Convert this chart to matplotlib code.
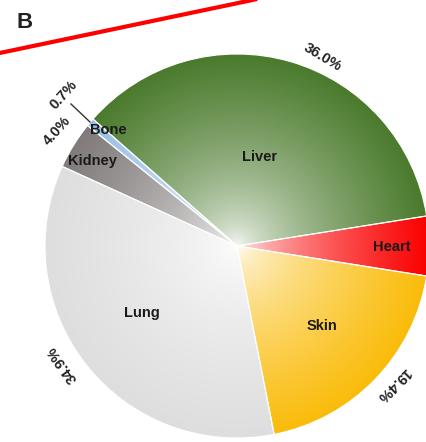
import numpy as np
import matplotlib.pyplot as plt
from matplotlib.colors import to_rgb

plt.rcParams['font.family'] = ['Liberation Sans', 'DejaVu Sans']

organs = ['Heart', 'Liver', 'Bone', 'Kidney', 'Lung', 'Skin']
shares = [5.0, 36.0, 0.7, 4.0, 34.9, 19.4]
rim_colors = ['#fa0000', '#4a7a2c', '#96bee6', '#807a7a', '#dedede', '#fabc0a']

W, H = 426, 442
fig = plt.figure(figsize=(W / 100, H / 100), dpi=100)
ax = fig.add_axes([0, 0, 1, 1])

# pixel coords (origin top-left) -> data coords
def px(x, y):
    return x, H - y

cx, cy = px(237, 246)
R = 192

wedges, _ = ax.pie(shares, startangle=-9, center=(cx, cy), radius=R,
                   counterclock=True,
                   wedgeprops=dict(edgecolor='white', linewidth=0.8))

# radial shading: white in the middle, full colour at the rim
yy, xx = np.mgrid[0:H, 0:W] + 0.5
dist = np.hypot(xx - cx, yy - cy) / R
t = np.clip(dist, 0, 1) ** 0.6
for w, c in zip(wedges, rim_colors):
    rgb = np.array(to_rgb(c))
    img = (1 - t[..., None]) * 1.0 + t[..., None] * rgb
    im = ax.imshow(img, extent=(0, W, 0, H), origin='lower',
                   interpolation='bilinear', zorder=1)
    im.set_clip_path(w)
    w.set_facecolor('none')
    w.set_zorder(2)

# organ names
name_pos = {'Heart': (392, 247), 'Liver': (260, 157), 'Bone': (108, 130),
            'Kidney': (92, 161), 'Lung': (142, 313), 'Skin': (322, 326)}
for name in organs:
    x, y = px(*name_pos[name])
    ax.text(x, y, name, fontsize=10.5, fontweight='bold', color='#1a1a1a',
            ha='center', va='center', zorder=3)

# percentages around the rim
pct_pos = {'Liver': (323, 57, -31), 'Bone': (64, 95, 48),
           'Kidney': (57, 131, 48), 'Lung': (62, 364, 125),
           'Skin': (393, 385, 225)}
for name, v in zip(organs, shares):
    if name not in pct_pos:
        continue
    x, y, rot = pct_pos[name]
    x, y = px(x, y)
    ax.text(x, y, f'{v:.1f}%', fontsize=10.5, fontweight='bold', color='#222222',
            rotation=rot, rotation_mode='anchor', ha='center', va='center',
            zorder=3)

# leader line for the small bone slice
ax.plot(*zip(px(71, 104), px(90, 122)), color='#333333', lw=1, zorder=3)

# panel letter and red stroke
ax.plot(*zip(px(-5, 54), px(262, -2)), color='red', lw=3, solid_capstyle='butt')
ax.text(*px(16, 28), 'B', fontsize=16, fontweight='bold', color='#222222',
        va='baseline', ha='left')

ax.set_xlim(0, W)
ax.set_ylim(0, H)
ax.set_aspect('auto')
ax.axis('off')

fig.savefig('out.png', dpi=100)
